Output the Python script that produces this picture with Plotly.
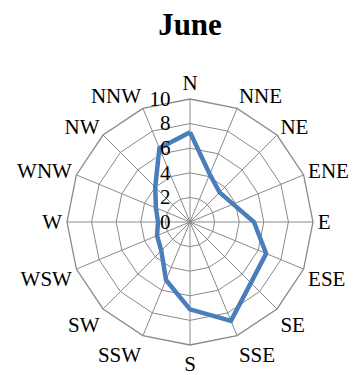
import plotly.graph_objects as go

# Wind direction sectors and June frequency values
directions = ["N", "NNE", "NE", "ENE", "E", "ESE", "SE", "SSE",
              "S", "SSW", "SW", "WSW", "W", "WNW", "NW", "NNW"]
june_values = [7.3, 4.2, 3.4, 3.8, 5.2, 6.7, 7.0, 8.7,
               7.1, 5.1, 3.3, 2.9, 2.6, 3.0, 4.0, 6.5]
radial_ticks = [0, 2, 4, 6, 8, 10]

grid_color = "#8a8a8a"
serif = "Liberation Serif, Times New Roman, serif"
pad = "\u00a0\u00a0\u00a0"  # keeps radial labels clear of the N spoke

fig = go.Figure()
fig.add_trace(go.Scatterpolar(
    r=june_values + [june_values[0]],
    theta=directions + [directions[0]],
    mode="lines",
    line=dict(color="#4a7ebb", width=4.5),
    showlegend=False,
))

W, H = 354, 375
cx, cy, R = 190, 222, 123

fig.update_layout(
    width=W, height=H,
    margin=dict(l=0, r=0, t=0, b=0),
    paper_bgcolor="white",
    plot_bgcolor="white",
    font=dict(family=serif, color="black", size=22),
    title=dict(
        text="<b>June</b>",
        x=cx / W, y=1 - 24 / H,
        xanchor="center", yanchor="middle",
        font=dict(family=serif, size=31, color="black"),
    ),
    polar=dict(
        domain=dict(x=[(cx - R) / W, (cx + R) / W],
                    y=[1 - (cy + R) / H, 1 - (cy - R) / H]),
        bgcolor="white",
        gridshape="linear",
        angularaxis=dict(
            direction="clockwise",
            rotation=90,
            categoryorder="array",
            categoryarray=directions,
            showline=True,
            linecolor=grid_color,
            linewidth=1.3,
            gridcolor=grid_color,
            gridwidth=1.3,
            ticks="",
            tickfont=dict(family=serif, size=21, color="black"),
        ),
        radialaxis=dict(
            range=[0, 10],
            tickvals=radial_ticks,
            ticktext=[str(v) + pad for v in radial_ticks],
            angle=90,
            tickangle=90,
            side="counterclockwise",
            showline=False,
            ticks="",
            gridcolor=grid_color,
            gridwidth=1.3,
            tickfont=dict(family=serif, size=21, color="black"),
        ),
    ),
)

fig.write_html("out.html")
